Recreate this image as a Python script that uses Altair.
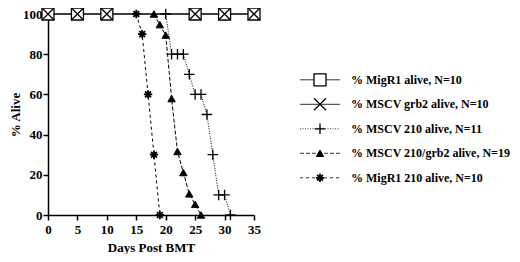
import altair as alt
import pandas as pd

# ---------------- data ----------------
series_names = [
    "% MigR1 alive, N=10",
    "% MSCV grb2 alive, N=10",
    "% MSCV 210 alive, N=11",
    "% MSCV 210/grb2 alive, N=19",
    "% MigR1 210 alive, N=10",
]

migr1_days = [0, 5, 10, 25, 30, 35]
migr1_pct = [100, 100, 100, 100, 100, 100]

grb2_days = [0, 5, 10, 25, 30, 35]
grb2_pct = [100, 100, 100, 100, 100, 100]

mscv210_days = [20, 21, 22, 23, 24, 25, 26, 27, 28, 29, 30, 31]
mscv210_pct = [100, 80, 80, 80, 70, 60, 60, 50, 30, 10, 10, 0]

mscv210grb2_days = [18, 19, 20, 21, 22, 23, 24, 25, 26]
mscv210grb2_pct = [100, 94.7, 89.5, 57.9, 31.6, 21.1, 10.5, 5.3, 0]

migr1210_days = [15, 16, 17, 18, 19]
migr1210_pct = [100, 90, 60, 30, 0]

x_ticks = [0, 5, 10, 15, 20, 25, 30, 35]
y_ticks = [0, 20, 40, 60, 80, 100]

all_days = [migr1_days, grb2_days, mscv210_days, mscv210grb2_days, migr1210_days]
all_pct = [migr1_pct, grb2_pct, mscv210_pct, mscv210grb2_pct, migr1210_pct]

# ---------------- styles ----------------
FONT = "Liberation Serif"
SQUARE = "M-1,-1L1,-1L1,1L-1,1Z"
XSHAPE = "M-1,-1L1,1M-1,1L1,-1"
PLUS = "M-1,0L1,0M0,-1L0,1"
STAR = "M-1,0L1,0M0,-1L0,1M-0.7,-0.7L0.7,0.7M-0.7,0.7L0.7,-0.7"

styles = [
    dict(dash=[1, 0], shape=SQUARE, size=144, fill="white", sw=1.3),
    dict(dash=[1, 0], shape=XSHAPE, size=144, fill="transparent", sw=1.3),
    dict(dash=[1, 1.5], shape=PLUS, size=110, fill="transparent", sw=1.3),
    dict(dash=[4, 2], shape="triangle-up", size=55, fill="black", sw=1),
    dict(dash=[3, 3], shape=STAR, size=70, fill="transparent", sw=1.8),
]

W = 206
H = 201

xscale = alt.Scale(domain=[0, 35], nice=False, zero=False)
yscale = alt.Scale(domain=[0, 100], nice=False)

xaxis = alt.Axis(
    values=x_ticks, grid=False, title="Days Post BMT",
    labelFont=FONT, labelFontSize=13, labelFontWeight="bold", labelColor="black",
    titleFont=FONT, titleFontSize=13, titleFontWeight="bold", titleColor="black",
    domainColor="black", domainWidth=1.5, tickColor="black", tickWidth=1.5,
    tickSize=5, labelPadding=3, titlePadding=5, labelFlush=False,
)
yaxis = alt.Axis(
    values=y_ticks, grid=False, title="% Alive",
    labelFont=FONT, labelFontSize=13, labelFontWeight="bold", labelColor="black",
    titleFont=FONT, titleFontSize=13, titleFontWeight="bold", titleColor="black",
    domainColor="black", domainWidth=1.5, tickColor="black", tickWidth=1.5,
    tickSize=5, labelPadding=1, titlePadding=0, labelFlush=False,
)

main_layers = []
for name, days, pct, st in zip(series_names, all_days, all_pct, styles):
    df = pd.DataFrame({"day": days, "pct": pct, "series": name})
    base = alt.Chart(df).encode(
        x=alt.X("day:Q", scale=xscale, axis=xaxis),
        y=alt.Y("pct:Q", scale=yscale, axis=yaxis),
    )
    main_layers.append(base.mark_line(color="black", strokeWidth=1, strokeDash=st["dash"]))
for name, days, pct, st in zip(series_names, all_days, all_pct, styles):
    df = pd.DataFrame({"day": days, "pct": pct, "series": name})
    base = alt.Chart(df).encode(
        x=alt.X("day:Q", scale=xscale, axis=xaxis),
        y=alt.Y("pct:Q", scale=yscale, axis=yaxis),
    )
    main_layers.append(base.mark_point(
        shape=st["shape"], size=st["size"], fill=st["fill"], stroke="black",
        strokeWidth=st["sw"], opacity=1, fillOpacity=1,
    ))

main = alt.layer(*main_layers)

# ---------------- legend (drawn to the right of the plot) ----------------
leg_df = pd.DataFrame({"series": series_names, "row": list(range(len(series_names)))})
# legend x in px-like units: 0 = start of legend sample line
lx = alt.Scale(domain=[-252, -46], nice=False, zero=False)
ly = alt.Scale(domain=[-2.686, 5.518], nice=False, zero=False, reverse=True)

leg_layers = []
for i, (name, st) in enumerate(zip(series_names, styles)):
    d = leg_df[leg_df["row"] == i]
    b = alt.Chart(d)
    leg_layers.append(b.mark_rule(color="black", strokeWidth=0.8, strokeDash=st["dash"]).encode(
        x=alt.datum(0, scale=lx, axis=None),
        x2=alt.datum(40),
        y=alt.Y("row:Q", scale=ly, axis=None),
    ))
    leg_layers.append(b.mark_point(
        shape=st["shape"], size=st["size"], fill=st["fill"], stroke="black",
        strokeWidth=st["sw"], opacity=1, fillOpacity=1,
    ).encode(
        x=alt.datum(20, scale=lx, axis=None),
        y=alt.Y("row:Q", scale=ly, axis=None),
    ))
    leg_layers.append(b.mark_text(
        font=FONT, fontSize=12, fontWeight="bold", color="black",
        align="left", baseline="middle",
    ).encode(
        x=alt.datum(51, scale=lx, axis=None),
        y=alt.Y("row:Q", scale=ly, axis=None),
        text="series:N",
    ))

legend = alt.layer(*leg_layers)

chart = alt.layer(main, legend).resolve_scale(
    x="independent", y="independent"
).properties(
    width=W, height=H,
    autosize=alt.AutoSizeParams(type="none"),
    padding={"left": 40, "top": 6, "right": 258, "bottom": 39},
).configure(background="white").configure_view(stroke=None)

chart.save("out.html", embed_options={"renderer": "svg", "actions": False})
